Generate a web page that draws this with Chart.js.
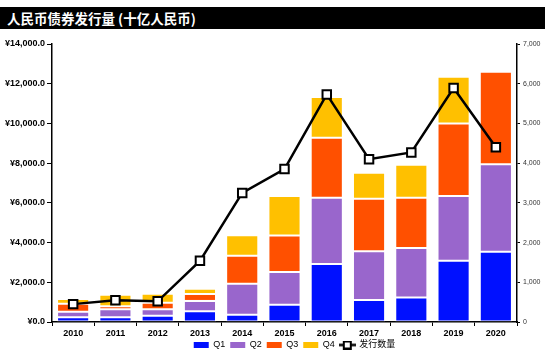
<!DOCTYPE html>
<html>
<head>
<meta charset="utf-8">
<script src="https://cdn.jsdelivr.net/npm/chart.js@4/dist/chart.umd.min.js"></script>
<style>
  html, body { margin: 0; padding: 0; background: #fff; }
  #wrap { position: relative; width: 549px; height: 362px; }
  #title {
    position: absolute; left: 0; top: 7px; width: 538px; height: 22px;
    background: #000; color: #fff; padding-left: 7px;
    font: bold 13.5px "Noto Sans CJK SC", sans-serif; line-height: 22px;
  }
  canvas { position: absolute; left: 0; top: 0; }
</style>
</head>
<body>
<div id="wrap">
  <canvas id="bondChart" width="549" height="362"></canvas>
  <div id="title">人民币债券发行量 (十亿人民币)</div>
</div>
<script>
// Values
const years = ['2010', '2011', '2012', '2013', '2014', '2015', '2016', '2017', '2018', '2019', '2020'];
const q1 = [240, 240, 320, 540, 370, 870, 2920, 1110, 1240, 3090, 3540];
const q2 = [280, 400, 320, 520, 1560, 1650, 3340, 2450, 2490, 3250, 4400];
const q3 = [400, 150, 330, 350, 1410, 1830, 3020, 2650, 2530, 3660, 4660];
const q4 = [240, 580, 450, 270, 1030, 1990, 2050, 1310, 1660, 2350, 0];
const issueCount = [450, 550, 520, 1540, 3250, 3850, 5730, 4100, 4270, 5890, 4400];

const colors = { q1: '#0010FF', q2: '#9966CC', q3: '#FF5000', q4: '#FFC000' };
const tickFont = 'Liberation Sans, Arial, sans-serif';

// Legend symbol for the line series: line with a square marker
function lineLegendIcon() {
    const c = document.createElement('canvas');
    c.width = 17;
    c.height = 9;
    const g = c.getContext('2d');
    g.strokeStyle = '#000';
    g.lineWidth = 2.5;
    g.beginPath();
    g.moveTo(0, 4.5);
    g.lineTo(17, 4.5);
    g.stroke();
    g.fillStyle = '#fff';
    g.lineWidth = 2;
    g.fillRect(5, 1, 7, 7);
    g.strokeRect(5, 1, 7, 7);
    return c;
}

// nudge the legend to where the reference has it
const legendPlacement = {
    id: 'legendPlacement',
    afterLayout(chart) {
        const lg = chart.legend;
        if (!lg) return;
        const h = lg.height;
        lg.left += 10;
        lg.right += 10;
        lg.top = 335.5;
        lg.bottom = lg.top + h;
    }
};

const barDefaults = {
    type: 'bar',
    yAxisID: 'y',
    stack: 'q',
    order: 1,
    borderColor: 'rgba(255,255,255,0.45)',
    borderWidth: 1,
    borderSkipped: false,
    barPercentage: 0.76,
    categoryPercentage: 1.0,
    pointStyle: 'rect'
};

const ctx = document.getElementById('bondChart');
const chart = new Chart(ctx, {
    data: {
        labels: years,
        datasets: [
            { ...barDefaults, label: 'Q1', data: q1, backgroundColor: colors.q1 },
            { ...barDefaults, label: 'Q2', data: q2, backgroundColor: colors.q2 },
            { ...barDefaults, label: 'Q3', data: q3, backgroundColor: colors.q3 },
            { ...barDefaults, label: 'Q4', data: q4, backgroundColor: colors.q4 },
            {
                type: 'line',
                label: '发行数量',
                data: issueCount,
                yAxisID: 'y1',
                order: -1,
                borderColor: '#000',
                borderWidth: 2.5,
                tension: 0,
                pointStyle: 'rect',
                pointRadius: 6,
                pointBorderWidth: 2,
                pointBackgroundColor: '#fff',
                pointBorderColor: '#000'
            }
        ]
    },
    plugins: [legendPlacement],
    options: {
        responsive: false,
        animation: false,
        layout: {
            padding: { top: 44, left: 0, right: 0, bottom: 0 }
        },
        plugins: {
            tooltip: { enabled: false },
            legend: {
                display: true,
                position: 'bottom',
                fullSize: false,
                maxHeight: 22,
                labels: {
                    usePointStyle: true,
                    pointStyleWidth: 15,
                    boxHeight: 6,
                    padding: 5,
                    color: '#000',
                    font: { family: tickFont + ', Noto Sans CJK SC', size: 9 },
                    sort: (a, b) => a.datasetIndex - b.datasetIndex,
                    generateLabels: (c) => {
                        const items = Chart.defaults.plugins.legend.labels.generateLabels(c);
                        items.forEach(item => {
                            if (item.datasetIndex === 4) {
                                item.pointStyle = lineLegendIcon();
                            } else {
                                item.lineWidth = 0;
                                item.strokeStyle = 'rgba(0,0,0,0)';
                            }
                        });
                        return items;
                    }
                }
            }
        },
        scales: {
            x: {
                stacked: true,
                offset: true,
                border: { color: '#000', width: 1.5 },
                grid: { display: true, drawOnChartArea: false, offset: true, tickLength: 4, color: '#000', tickWidth: 1 },
                ticks: {
                    color: '#000',
                    padding: 2,
                    maxRotation: 0,
                    font: { family: tickFont, size: 9, weight: 'bold' }
                },
                afterFit: (scale) => { scale.height = 18; }
            },
            y: {
                stacked: true,
                position: 'left',
                min: 0,
                max: 14000,
                border: { color: '#000', width: 1.5 },
                grid: { display: true, drawOnChartArea: false, tickLength: 5, color: '#000' },
                ticks: {
                    stepSize: 2000,
                    color: '#000',
                    padding: 2,
                    font: { family: tickFont, size: 9, weight: 'bold' },
                    callback: (v) => '¥' + Number(v).toLocaleString('en-US', { minimumFractionDigits: 1, maximumFractionDigits: 1 })
                },
                afterFit: (scale) => { scale.width = 52; }
            },
            y1: {
                position: 'right',
                min: 0,
                max: 7000,
                border: { color: '#000', width: 1.5 },
                grid: { display: true, drawOnChartArea: false, tickLength: 3, color: '#000' },
                ticks: {
                    stepSize: 1000,
                    color: '#333',
                    padding: 3,
                    font: { family: tickFont, size: 7 },
                    callback: (v) => Number(v).toLocaleString('en-US')
                },
                afterFit: (scale) => { scale.width = 32; }
            }
        }
    }
});
</script>
</body>
</html>
